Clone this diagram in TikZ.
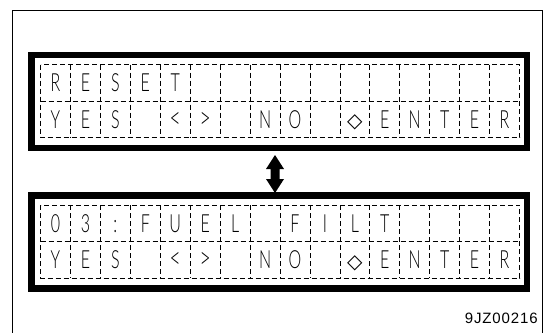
\documentclass[tikz,border=0pt]{standalone}
\usepackage{fontspec}
\newfontfamily\lcdfont[FakeStretch=0.64,UprightFont={* Light}]{Lato}
\newfontfamily\symfont{DejaVu Sans}
\newfontfamily\codefont[LetterSpace=6]{Liberation Sans}
\tikzset{cell/.style={anchor=base, inner sep=0pt, font=\lcdfont\fontsize{25}{25}\selectfont}}

\begin{document}
\begin{tikzpicture}[
  x=1pt, y=-1pt,
  panel/.style={line width=6.5pt},
  cellgrid/.style={line width=0.8pt, dash pattern=on 5pt off 3pt}
]
\useasboundingbox (0,0) rectangle (553,332);
\draw[line width=1pt] (12,345) -- (12,10) -- (542,10) -- (542,345);

\foreach \dy in {0,140.5} {
  \draw[panel] (31.5,55+\dy) rectangle (527,148+\dy);
  \draw[cellgrid] (40.5,64.5+\dy) rectangle (519.5,137.5+\dy);
  \draw[cellgrid] (40.5,101+\dy) -- (519.5,101+\dy);
  \foreach \i in {1,...,15}
    \draw[cellgrid] (40.5+29.94*\i,64.5+\dy) -- (40.5+29.94*\i,137.5+\dy);
}

\foreach \c [count=\i] in {R,E,S,E,T}
  \node[cell] (reset\i) at (40.5+29.94*\i-14.97,91.5) {\c};
\foreach \c [count=\i] in {0,3,:,F,U,E,L,{},F,I,L,T}
  \node[cell] (filt\i) at (40.5+29.94*\i-14.97,232) {\c};
\foreach \dy/\row in {128/upper,268.5/lower} {
  \foreach \c [count=\i] in {Y,E,S,{},{\fontsize{30}{30}\selectfont<},{\fontsize{30}{30}\selectfont>},{},N,O,{},{},E,N,T,E,R}
    \node[cell] (\row\i) at (40.5+29.94*\i-14.97,\dy) {\c};
  \node[cell, font=\symfont\fontsize{20}{20}\selectfont] (\row enter) at (40.5+29.94*10.5,\dy-0.5) {◇};
}

\fill (275,155) -- (284,169) -- (279.5,169) -- (279.5,179) -- (284,179) -- (275,193)
  -- (266,179) -- (270.5,179) -- (270.5,169) -- (266,169) -- cycle;

\node[anchor=base east, inner sep=0pt, font=\codefont\fontsize{15}{15}\selectfont] (code) at (538,323) {9JZ00216};
\end{tikzpicture}
\end{document}
